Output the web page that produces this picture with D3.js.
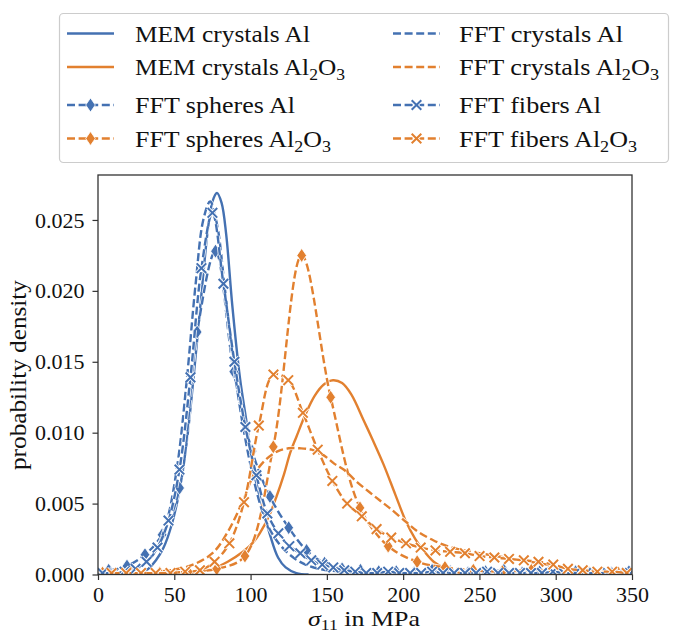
<!DOCTYPE html>
<html><head><meta charset="utf-8">
<script src="https://cdn.jsdelivr.net/npm/d3@7"></script>
<style>body{margin:0;background:#fff}</style>
</head><body><svg id="c" width="685" height="636"></svg>
<script>
// ---------------- data ----------------
const xTicks = [0, 50, 100, 150, 200, 250, 300, 350];
const yTicks = [0.000, 0.005, 0.010, 0.015, 0.020, 0.025];

const memAlX = [20, 28, 33, 38, 43, 48, 53, 58, 63, 68, 72, 75, 78, 81, 84, 88, 93, 97, 102, 108, 113, 118, 123, 130, 138];
const memAlY = [0.0000, 0.0001, 0.0004, 0.0010, 0.0019, 0.0034, 0.0057, 0.0092, 0.0143, 0.0200, 0.0243, 0.0263, 0.0269, 0.0262, 0.0240, 0.0190, 0.0139, 0.0110, 0.0073, 0.0047, 0.0027, 0.0012, 0.0005, 0.0001, 0.0000];

const memAl2O3X = [55, 65, 75, 85, 95, 102, 106, 112, 117, 122, 126, 130, 136, 142, 148, 154, 160, 166, 174, 180, 187, 195, 202, 208, 214, 220, 228, 238, 250];
const memAl2O3Y = [0.0000, 0.0002, 0.0004, 0.0009, 0.0016, 0.0023, 0.0029, 0.0041, 0.0055, 0.0071, 0.0086, 0.0097, 0.0113, 0.0126, 0.0134, 0.0137, 0.0135, 0.0127, 0.0109, 0.0095, 0.0078, 0.0056, 0.0037, 0.0025, 0.0016, 0.0009, 0.0004, 0.0001, 0.0000];

const sphAlX = [7, 19, 30.8, 42, 53.5, 65, 77, 89, 101, 112.7, 125, 136.7, 148.5, 160, 172, 184, 195.5, 207, 219, 231, 242.5, 254, 266, 278, 289.5, 301, 313, 325, 336.5, 348];
const sphAlY = [0.0003, 0.0006, 0.0014, 0.0028, 0.0061, 0.0171, 0.0228, 0.0143, 0.0087, 0.0055, 0.0033, 0.0017, 0.0008, 0.0004, 0.0003, 0.0002, 0.0002, 0.0001, 0.0003, 0.0002, 0.0001, 0.0002, 0.0003, 0.0001, 0.0002, 0.0001, 0.0002, 0.0001, 0.0001, 0.0002];

const sphAl2O3X = [3, 21.7, 40.4, 59.1, 77.8, 96.3, 114.9, 133.5, 152.5, 171.7, 190.2, 209.2, 227.4, 246, 265, 284, 303, 322, 341];
const sphAl2O3Y = [0.0001, 0.0001, 0.0001, 0.0002, 0.0004, 0.0013, 0.0090, 0.0225, 0.0125, 0.0047, 0.0020, 0.0009, 0.0005, 0.0003, 0.0002, 0.0003, 0.0002, 0.0001, 0.0001];

const cryAlX = [0, 20, 30, 38, 45, 52, 58, 64, 69, 73.5, 78, 83, 89, 95, 101, 107, 113, 120, 128, 136, 145, 160, 180, 220, 350];
const cryAlY = [0.0000, 0.0002, 0.0007, 0.0017, 0.0037, 0.0077, 0.0135, 0.0205, 0.0250, 0.0263, 0.0247, 0.0203, 0.0148, 0.0105, 0.0072, 0.0047, 0.0031, 0.0020, 0.0012, 0.0007, 0.0004, 0.0002, 0.0001, 0.0000, 0.0000];

const cryAl2O3X = [20, 40, 60, 75, 85, 95, 102, 110, 118, 125, 132, 140, 148, 155, 161, 170, 178, 185, 191, 202, 210, 220, 229, 240, 250, 261, 272, 283, 294, 305, 318, 332, 350];
const cryAl2O3Y = [0.0000, 0.0002, 0.0006, 0.0015, 0.0030, 0.0052, 0.0070, 0.0081, 0.0087, 0.0089, 0.0089, 0.0088, 0.0084, 0.0078, 0.0074, 0.0065, 0.0058, 0.0052, 0.0047, 0.0037, 0.0030, 0.0024, 0.0020, 0.0017, 0.0015, 0.0013, 0.0011, 0.0009, 0.0007, 0.0004, 0.0003, 0.0002, 0.0001];

const fibAlX = [3.0, 10.2, 17.4, 24.6, 31.8, 39.0, 46.2, 53.4, 60.6, 67.8, 75.0, 82.2, 89.4, 96.6, 103.8, 111.0, 118.2, 125.4, 132.6, 139.8, 147.0, 154.2, 161.4, 168.6, 175.8, 183.0, 190.2, 197.4, 204.6, 211.8, 219.0, 226.2, 233.4, 240.6, 247.8, 255.0, 262.2, 269.4, 276.6, 283.8, 291.0, 298.2, 305.4, 312.6, 319.8, 327.0, 334.2, 341.4, 348.6];
const fibAlY = [0.0001, 0.0001, 0.0002, 0.0004, 0.0009, 0.0019, 0.0038, 0.0074, 0.0139, 0.0216, 0.0255, 0.0205, 0.0150, 0.0104, 0.0070, 0.0043, 0.0029, 0.0020, 0.0015, 0.0010, 0.0007, 0.0005, 0.0003, 0.0002, 0.0001, 0.0001, 0.0002, 0.0001, 0.0001, 0.0001, 0.0002, 0.0001, 0.0001, 0.0001, 0.0001, 0.0002, 0.0001, 0.0001, 0.0001, 0.0001, 0.0001, 0.0002, 0.0001, 0.0001, 0.0001, 0.0001, 0.0001, 0.0001, 0.0001];

const fibAl2O3X = [8.9, 18.5, 28.2, 37.8, 47.5, 57.1, 66.8, 76.4, 86.1, 95.7, 105.4, 115.0, 124.7, 134.3, 144.0, 153.6, 163.3, 172.9, 182.6, 192.2, 201.9, 211.5, 221.2, 230.8, 240.5, 250.1, 259.8, 269.4, 279.1, 288.7, 298.4, 308.0, 317.7, 327.3, 337.0, 346.6];
const fibAl2O3Y = [0.0001, 0.0001, 0.0001, 0.0001, 0.0001, 0.0002, 0.0003, 0.0009, 0.0022, 0.0051, 0.0105, 0.0141, 0.0137, 0.0114, 0.0088, 0.0066, 0.0050, 0.0041, 0.0032, 0.0026, 0.0022, 0.0019, 0.0017, 0.0016, 0.0015, 0.0013, 0.0012, 0.0011, 0.0010, 0.0009, 0.0007, 0.0004, 0.0003, 0.0002, 0.0002, 0.0001];

// ---------------- style ----------------
const BLUE = "#4471b2", ORANGE = "#e2802f";
const FONT = "'Liberation Serif', 'DejaVu Serif', serif";
const DASH = "8,3.6";

const series = [
  {name: ["MEM crystals Al"], x: memAlX, y: memAlY, color: BLUE, dash: null, marker: null, col: 0, row: 0, w: 175},
  {name: ["MEM crystals Al", "2", "O", "3"], x: memAl2O3X, y: memAl2O3Y, color: ORANGE, dash: null, marker: null, col: 0, row: 1, w: 210},
  {name: ["FFT spheres Al"], x: sphAlX, y: sphAlY, color: BLUE, dash: DASH, marker: "d", col: 0, row: 2, w: 160},
  {name: ["FFT spheres Al", "2", "O", "3"], x: sphAl2O3X, y: sphAl2O3Y, color: ORANGE, dash: DASH, marker: "d", col: 0, row: 3, w: 196},
  {name: ["FFT crystals Al"], x: cryAlX, y: cryAlY, color: BLUE, dash: DASH, marker: null, col: 1, row: 0, w: 164},
  {name: ["FFT crystals Al", "2", "O", "3"], x: cryAl2O3X, y: cryAl2O3Y, color: ORANGE, dash: DASH, marker: null, col: 1, row: 1, w: 200},
  {name: ["FFT fibers Al"], x: fibAlX, y: fibAlY, color: BLUE, dash: DASH, marker: "x", col: 1, row: 2, w: 142},
  {name: ["FFT fibers Al", "2", "O", "3"], x: fibAl2O3X, y: fibAl2O3Y, color: ORANGE, dash: DASH, marker: "x", col: 1, row: 3, w: 178},
];

const L = 98, R = 632, T = 175, B = 574.5;
const svg = d3.select("#c");
const xs = d3.scaleLinear().domain([0, 350]).range([L, R]);
const ys = d3.scaleLinear().domain([0, 0.02817]).range([B, T]);

svg.append("defs").append("clipPath").attr("id", "clip")
  .append("rect").attr("x", L).attr("y", T).attr("width", R - L).attr("height", B - T);

const line = d3.line().curve(d3.curveCatmullRom.alpha(0.5));

function drawMarker(g, type, cx, cy, color) {
  if (type === "d") {
    const w = 4.8, h = 7;
    g.append("path").attr("d", `M${cx},${cy - h}L${cx + w},${cy}L${cx},${cy + h}L${cx - w},${cy}Z`)
      .attr("fill", color).attr("stroke", "#fff").attr("stroke-width", 0.8);
  } else if (type === "x") {
    const s = 4.8;
    const p = `M${cx - s},${cy - s}L${cx + s},${cy + s}M${cx - s},${cy + s}L${cx + s},${cy - s}`;
    g.append("path").attr("d", p).attr("stroke", "#fff").attr("stroke-width", 3.8).attr("fill", "none");
    g.append("path").attr("d", p).attr("stroke", color).attr("stroke-width", 2).attr("fill", "none");
  }
}

const plot = svg.append("g").attr("clip-path", "url(#clip)");
series.forEach(s => {
  const pts = s.x.map((v, i) => [xs(v), ys(s.y[i])]);
  const g = plot.append("g");
  g.append("path").attr("d", line(pts)).attr("fill", "none").attr("stroke", "#fff")
    .attr("stroke-width", 4.2).attr("stroke-dasharray", s.dash).attr("opacity", 0.85);
  g.append("path").attr("d", line(pts)).attr("fill", "none").attr("stroke", s.color)
    .attr("stroke-width", 2.4).attr("stroke-dasharray", s.dash);
  if (s.marker) pts.forEach(p => drawMarker(g, s.marker, p[0], p[1], s.color));
});

// axes
const axisColor = "#333";
const xAxis = svg.append("g").attr("transform", `translate(0,${B})`)
  .call(d3.axisBottom(xs).tickValues(xTicks).tickSize(5.5).tickPadding(6).tickFormat(d3.format("d")));
const yAxis = svg.append("g").attr("transform", `translate(${L},0)`)
  .call(d3.axisLeft(ys).tickValues(yTicks).tickSize(5.5).tickPadding(8).tickFormat(d3.format(".3f")));
[xAxis, yAxis].forEach(a => {
  a.select(".domain").remove();
  a.selectAll("line").attr("stroke", axisColor).attr("stroke-width", 1.2);
  a.selectAll("text").attr("font-family", FONT).attr("font-size", 22).attr("fill", "#111");
});
svg.append("rect").attr("x", L).attr("y", T).attr("width", R - L).attr("height", B - T)
  .attr("fill", "none").attr("stroke", axisColor).attr("stroke-width", 1.3);

// axis labels
const xl = svg.append("text").attr("x", 308).attr("y", 626)
  .attr("font-family", FONT).attr("font-size", 22).attr("fill", "#111")
  .attr("textLength", 112).attr("lengthAdjust", "spacingAndGlyphs");
xl.append("tspan").attr("font-style", "italic").text("σ");
xl.append("tspan").attr("font-size", 15).attr("dy", 4).text("11");
xl.append("tspan").attr("dy", -4).text(" in MPa");

svg.append("text").attr("transform", `translate(26,375) rotate(-90)`).attr("x", -95)
  .attr("font-family", FONT).attr("font-size", 23).attr("fill", "#111")
  .attr("textLength", 190).attr("lengthAdjust", "spacingAndGlyphs").text("probability density");

// legend
const lg = svg.append("g");
lg.append("rect").attr("x", 59.5).attr("y", 13.5).attr("width", 609).attr("height", 149).attr("rx", 4)
  .attr("fill", "#fff").attr("stroke", "#ccc").attr("stroke-width", 1.2);
const rowY = [33.5, 67, 105, 138.5];
const colX = [67, 393], textX = [135, 459];
series.forEach(s => {
  const y = rowY[s.row], x0 = colX[s.col], x1 = x0 + 47;
  lg.append("line").attr("x1", x0).attr("x2", x1).attr("y1", y).attr("y2", y)
    .attr("stroke", s.color).attr("stroke-width", 2.4).attr("stroke-dasharray", s.dash ? DASH : null);
  if (s.marker) drawMarker(lg, s.marker, (x0 + x1) / 2, y, s.color);
  const t = lg.append("text").attr("x", textX[s.col]).attr("y", y + 8)
    .attr("font-family", FONT).attr("font-size", 23).attr("fill", "#111")
    .attr("textLength", s.w).attr("lengthAdjust", "spacingAndGlyphs");
  t.append("tspan").text(s.name[0]);
  if (s.name.length > 1) {
    t.append("tspan").attr("font-size", 16).attr("dy", 5).text(s.name[1]);
    t.append("tspan").attr("dy", -5).text(s.name[2]);
    t.append("tspan").attr("font-size", 16).attr("dy", 5).text(s.name[3]);
  }
});
</script>
</body></html>
